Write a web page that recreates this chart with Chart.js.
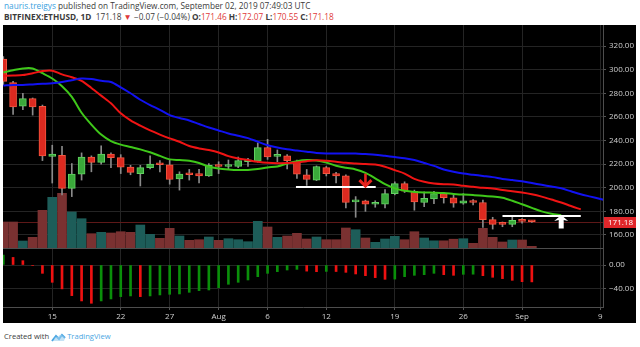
<!DOCTYPE html>
<html>
<head>
<meta charset="utf-8">
<script src="https://cdn.jsdelivr.net/npm/chart.js@4.4.0/dist/chart.umd.min.js"></script>
<style>
  html, body { margin: 0; padding: 0; background: #fff; }
  body { width: 640px; height: 347px; position: relative; overflow: hidden; font-family: "Open Sans", sans-serif; }
  .line { position: absolute; left: 4px; white-space: nowrap; font-size: 8.25px; color: #3b3b3b; }
  #l1 { top: 0px; }
  #l2 { top: 11px; }
  .user { color: #3a9fe0; }
  .red { color: #e03a3a; }
  #board { position: absolute; left: 3px; top: 25px; width: 633px; height: 298px; background: #000; }
  #priceWrap { position: absolute; left: 0; top: 0; }
  #aoWrap { position: absolute; left: 0; top: 224px; }
  #foot { position: absolute; left: 4px; top: 331px; font-size: 7.6px; color: #3b3b3b; white-space: nowrap; }
  #foot svg { vertical-align: -3px; margin: 0 1px 0 2px; }
  #foot .tv { color: #4aa6e2; }
</style>
</head>
<body>
<div class="line" id="l1"><span class="user">nauris.treigys</span> published on TradingView.com, September 02, 2019 07:49:03 UTC</div>
<div class="line" id="l2"><b>BITFINEX:ETHUSD, 1D</b>&nbsp; 171.18 <span class="red">▼</span> −0.07 (−0.04%) <b>O:</b><span class="red">171.46</span> <b>H:</b><span class="red">172.07</span> <b>L:</b><span class="red">170.55</span> <b>C:</b><span class="red">171.18</span></div>
<div id="board">
  <div id="priceWrap"><canvas id="price" width="633" height="224"></canvas></div>
  <div id="aoWrap"><canvas id="ao" width="633" height="74"></canvas></div>
</div>
<div id="foot">Created with<svg width="15" height="9" viewBox="0 0 15 9"><path d="M1 8 L5 3 L8 6 L11 2 L14 5" fill="none" stroke="#4aa6e2" stroke-width="2"/><path d="M3 8 Q3 3 7 4 Q9 0 12 3 Q15 4 13 8 Z" fill="#9fd0f0" opacity="0.6"/></svg><span class="tv">TradingView</span></div>

<script>
// day 0 = Jul 15 2019, first candle is Jul 10
const FIRST_DAY = -5;
const VIEW_MIN = -5.03;
const VIEW_MAX = 56.27;

const TIME_TICK_DAYS = [0, 7, 12, 17, 22, 28, 35, 42, 48, 56];
const TIME_LABELS = ['15', '22', '27', 'Aug', '6', '12', '19', '26', 'Sep', '9'];
const PRICE_TICKS = [160, 180, 200, 220, 240, 260, 280, 300, 320];
const AO_TICKS = [0, -40];

const OPEN = [309, 289, 269, 275.5, 269, 226.5, 227.5, 199.5, 211.5, 226, 221.5, 228.5, 225.5, 217.5, 212,
  217, 220.5, 219.5, 207.5, 211.5, 212, 210, 219, 218, 218, 222, 222.5, 234, 226.5, 227,
  222.5, 211, 206.5, 217, 212, 210, 188, 189, 186, 186, 195, 203.5, 197, 187.5, 190.5,
  195, 191.5, 187, 189, 187.5, 173, 170, 169, 172.5, 171.46];
const HIGH = [311, 290, 280, 276, 270, 236, 235, 220.5, 229.5, 227, 235.5, 229.5, 228, 219, 219,
  227, 223, 224, 213.5, 215.5, 215.5, 220.5, 222, 223.5, 226, 225, 238, 241, 232, 228,
  223.5, 215.5, 218.5, 218, 213, 211, 192.5, 189.5, 189, 198.5, 205, 205, 198, 196.5, 197,
  196, 194, 195, 190, 189.5, 175, 171, 175.5, 174, 172.07];
const LOW = [287, 262, 266, 261.5, 223, 204, 194, 192.5, 206.5, 213.5, 220, 217, 212, 211, 201.5,
  216, 213.5, 203, 198, 206.5, 204, 209.5, 212, 215.5, 217, 218, 221.5, 224, 222, 216,
  208, 202, 206, 210, 204, 183, 175, 180, 183.5, 183, 194, 196, 181, 184, 186.5,
  187, 183.5, 186, 185.5, 166.5, 165, 167, 167, 170, 170.55];
const CLOSE = [290, 268.5, 275.5, 268.5, 227, 228.5, 199.5, 211.5, 226, 221.5, 228.5, 225.5, 217.5, 213, 217,
  220, 219.5, 207, 211.5, 211, 210, 219, 218, 218.6, 223, 222.5, 234, 226, 227.2, 223,
  211.5, 207, 218, 212, 210, 187.5, 188.6, 186, 186.7, 195, 203.5, 197, 188, 191, 195,
  191.5, 187, 189, 187.5, 173, 169, 169, 172.5, 171.5, 171.18];
// thousand ETH
const VOLUME = [52, 52, 14, 21.4, 75.4, 101.4, 109.4, 72, 58.6, 28.6, 31.4, 30, 32.6, 31.4, 46,
  27.4, 19.4, 39.4, 24, 15.4, 16.6, 22, 15.4, 18.6, 16.6, 12.6, 53.4, 42, 21.4, 24,
  29.4, 18, 22, 16.6, 16.6, 40, 36.6, 20, 11.4, 18, 23.4, 16.6, 32.6, 20, 14.4,
  14.4, 17.6, 18.6, 9.4, 39.4, 21.4, 12, 16, 16, 3.4];

// Alligator lines (already shifted forward)
const JAW = [286.5, 287, 287, 287.5, 288, 288.5, 289.5, 291, 292.5, 292, 290.5, 289.5, 285, 280, 274.5,
  270, 266, 261.5, 259, 257, 254, 251, 248.5, 246, 244, 242, 239, 236, 234, 232.5,
  231.5, 230.5, 229.5, 229, 229, 229, 229, 228.5, 228, 227, 226, 225, 223.5, 221, 218.5,
  215.5, 213.5, 212, 211, 210, 209, 207.5, 206.5, 205.5, 204, 202.5, 201, 199.5, 197, 194.5,
  192.5, 190.5, 188.5];
const TEETH = [294.8, 295, 295.4, 296.9, 298.8, 299.1, 296, 293.5, 290.5, 284.5, 278, 271.5, 263, 257, 252.5,
  248.5, 245, 241.8, 238.9, 235.3, 233.3, 231.9, 229.9, 226.8, 224.8, 223.4, 222, 221.1, 220.8, 221,
  221.4, 222.5, 223.2, 222.8, 222, 221.1, 220.6, 220, 219.7, 217.8, 214.9, 212, 207.5, 205, 203.6,
  203, 202.8, 201.6, 200.8, 199.9, 199.4, 198, 197.1, 196, 194.5, 192.5, 190, 187.5, 184.5, 181.7];
const LIPS = [297.7, 299.5, 301, 301, 297, 292.5, 286, 277, 263.5, 253.5, 245, 239.5, 236.5, 234.5, 232.5,
  230, 227, 224, 223.4, 222.8, 221, 217.8, 216.3, 215.5, 215, 215, 215.8, 217.2, 218, 220.6,
  222.5, 223.4, 223.1, 221.4, 218.6, 216.9, 215.5, 212.6, 208, 203, 199.5, 197.5, 196.5, 196, 195.8,
  195.5, 194.8, 194.2, 193.8, 193.3, 192.5, 191.5, 189, 186, 183, 180, 178, 176.8];

// Awesome Oscillator
const AO = [17, 13, 7.4, -1, -14.3, -29.7, -41, -52.6, -61.7, -65.7, -61.7, -58.3, -54.3, -53.1, -54.3,
  -53.1, -51.4, -50.3, -49.7, -46.9, -44, -42.9, -38.9, -33.1, -29.7, -25.7, -20, -14.3, -11.4, -8.6,
  -7.5, -10.5, -11.5, -11, -11.2, -12.6, -15.4, -18.3, -21.7, -24.6, -24.2, -20, -17.7, -16.6, -14.3,
  -16.6, -17.7, -16, -15.8, -18.3, -21.1, -23.4, -26.3, -28.6, -29];

// user drawings
const LEVELS = [{ from: 24.9, to: 33.05, price: 201 }, { from: 46, to: 54, price: 176 }];
const ARROWS = [
  { day: 32, from: 211.9, to: 200.5, color: '#e8231d', style: 'chevron' },
  { day: 52, from: 165.5, to: 177, color: '#ffffff', style: 'solid' }
];

const PRICE_MIN = 148.99, PRICE_MAX = 337.78;
const VOL_MAX = 446;
const AO_MIN = -72.1, AO_MAX = 27.47;

const UP = '#3aa83a', UP_EDGE = '#62d262';
const DOWN = '#dc2a20', DOWN_EDGE = '#f4553f';
const VOL_UP = '#1d5d59', VOL_DOWN = '#7a3131';
const GRID = '#242424';
const AXIS_LINE = '#4d4d4d';
const LABEL = '#cfcfcf';

Chart.defaults.font.family = '"Open Sans", sans-serif';
Chart.defaults.font.size = 8;

const dayOf = i => FIRST_DAY + i;
const isUp = i => CLOSE[i] >= OPEN[i];
const fmt = v => (v < 0 ? '\u2212' : '') + Math.abs(v).toFixed(2);
const noPad = s => { s.paddingTop = 0; s.paddingBottom = 0; s.paddingLeft = 0; s.paddingRight = 0; };

function maLine(values, color) {
    return {
        type: 'line',
        data: values.map((v, i) => ({ x: dayOf(i), y: v })),
        borderColor: color,
        borderWidth: 2,
        pointRadius: 0,
        tension: 0.3,
        yAxisID: 'y',
        order: 1
    };
}

const drawings = {
    id: 'drawings',
    beforeDatasetsDraw(chart) {
        const { ctx, chartArea: a, scales: { y } } = chart;
        const py = Math.round(y.getPixelForValue(CLOSE[CLOSE.length - 1])) + 0.5;
        ctx.save();
        ctx.strokeStyle = '#5e1818';
        ctx.lineWidth = 1;
        ctx.beginPath();
        ctx.moveTo(a.left, py);
        ctx.lineTo(a.right, py);
        ctx.stroke();
        ctx.restore();
    },
    afterDatasetsDraw(chart) {
        const { ctx, chartArea: a, scales: { x, y } } = chart;
        ctx.save();
        ctx.beginPath();
        ctx.rect(a.left, a.top, a.right - a.left, a.bottom - a.top);
        ctx.clip();

        ctx.strokeStyle = '#ffffff';
        ctx.lineWidth = 2;
        LEVELS.forEach(l => {
            const ly = Math.round(y.getPixelForValue(l.price));
            ctx.beginPath();
            ctx.moveTo(x.getPixelForValue(l.from), ly);
            ctx.lineTo(x.getPixelForValue(l.to), ly);
            ctx.stroke();
        });

        ARROWS.forEach(ar => {
            const cx = x.getPixelForValue(ar.day);
            const y0 = y.getPixelForValue(ar.from);
            const y1 = y.getPixelForValue(ar.to);
            const dir = y1 > y0 ? 1 : -1;
            if (ar.style === 'chevron') {
                ctx.strokeStyle = ar.color;
                ctx.lineWidth = 2.6;
                ctx.beginPath();
                ctx.moveTo(cx, y0);
                ctx.lineTo(cx, y1 - dir);
                ctx.stroke();
                ctx.lineWidth = 3;
                ctx.lineJoin = 'miter';
                ctx.beginPath();
                ctx.moveTo(cx - 6, y1 - dir * 7);
                ctx.lineTo(cx, y1 - dir);
                ctx.lineTo(cx + 6, y1 - dir * 7);
                ctx.stroke();
            } else {
                ctx.fillStyle = ar.color;
                ctx.beginPath();
                ctx.moveTo(cx, y1);
                ctx.lineTo(cx + 7, y1 - dir * 6);
                ctx.lineTo(cx + 2.5, y1 - dir * 5);
                ctx.lineTo(cx + 2.5, y0);
                ctx.lineTo(cx - 2.5, y0);
                ctx.lineTo(cx - 2.5, y1 - dir * 5);
                ctx.lineTo(cx - 7, y1 - dir * 6);
                ctx.closePath();
                ctx.fill();
            }
        });
        ctx.restore();

        // last price tag on the axis
        const last = CLOSE[CLOSE.length - 1];
        const py = Math.round(y.getPixelForValue(last)) + 0.5;
        ctx.save();
        ctx.fillStyle = '#e0262a';
        ctx.fillRect(a.right + 1, py - 5.5, chart.width - a.right - 1, 11);
        ctx.fillStyle = '#ffffff';
        ctx.font = '8px "Open Sans", sans-serif';
        ctx.textAlign = 'center';
        ctx.textBaseline = 'middle';
        ctx.fillText(last.toFixed(2), (a.right + chart.width) / 2 + 1, py + 0.5);
        ctx.restore();
    }
};

new Chart(document.getElementById('price'), {
    type: 'bar',
    data: {
        datasets: [
            maLine(JAW, '#1212f2'),
            maLine(TEETH, '#f01414'),
            maLine(LIPS, '#3fc81a'),
            {
                data: OPEN.map((o, i) => ({ x: dayOf(i), y: [o, CLOSE[i]] })),
                backgroundColor: OPEN.map((o, i) => isUp(i) ? UP : DOWN),
                borderColor: OPEN.map((o, i) => isUp(i) ? UP_EDGE : DOWN_EDGE),
                borderWidth: 1,
                borderSkipped: false,
                barThickness: 7,
                minBarLength: 2,
                grouped: false,
                yAxisID: 'y',
                order: 4
            },
            {
                data: LOW.map((l, i) => ({ x: dayOf(i), y: [l, HIGH[i]] })),
                backgroundColor: '#8a8a8a',
                barThickness: 1,
                grouped: false,
                yAxisID: 'y',
                order: 5
            },
            {
                data: VOLUME.map((v, i) => ({ x: dayOf(i), y: v })),
                backgroundColor: VOLUME.map((v, i) => isUp(i) ? VOL_UP : VOL_DOWN),
                barThickness: 9,
                grouped: false,
                yAxisID: 'vol',
                order: 10
            }
        ]
    },
    options: {
        responsive: false,
        animation: false,
        devicePixelRatio: 1,
        layout: { padding: 0 },
        plugins: { legend: { display: false }, tooltip: { enabled: false } },
        scales: {
            x: {
                type: 'linear',
                min: VIEW_MIN,
                max: VIEW_MAX,
                offset: false,
                afterBuildTicks: s => { s.ticks = TIME_TICK_DAYS.map(v => ({ value: v })); },
                afterFit: s => { s.height = 1; noPad(s); },
                ticks: { display: false },
                grid: { color: GRID, offset: false, drawTicks: false },
                border: { color: AXIS_LINE }
            },
            y: {
                position: 'right',
                min: PRICE_MIN,
                max: PRICE_MAX,
                afterBuildTicks: s => { s.ticks = PRICE_TICKS.map(v => ({ value: v })); },
                afterFit: s => { s.width = 33; noPad(s); },
                ticks: { color: LABEL, padding: 3, callback: v => fmt(v) },
                grid: { color: GRID, tickColor: '#555', tickLength: 3 },
                border: { color: AXIS_LINE }
            },
            vol: { display: false, min: 0, max: VOL_MAX }
        }
    },
    plugins: [drawings]
});

new Chart(document.getElementById('ao'), {
    type: 'bar',
    data: {
        datasets: [{
            data: AO.map((v, i) => ({ x: dayOf(i), y: v })),
            backgroundColor: AO.map((v, i) => (i === 0 || v >= AO[i - 1]) ? '#0a8f0a' : '#ee1111'),
            barThickness: 2,
            grouped: false
        }]
    },
    options: {
        responsive: false,
        animation: false,
        devicePixelRatio: 1,
        layout: { padding: 0 },
        plugins: { legend: { display: false }, tooltip: { enabled: false } },
        scales: {
            x: {
                type: 'linear',
                min: VIEW_MIN,
                max: VIEW_MAX,
                offset: false,
                afterBuildTicks: s => { s.ticks = TIME_TICK_DAYS.map(v => ({ value: v })); },
                afterFit: s => { s.height = 16; noPad(s); },
                ticks: {
                    color: LABEL,
                    padding: 2,
                    maxRotation: 0,
                    autoSkip: false,
                    callback: v => TIME_LABELS[TIME_TICK_DAYS.indexOf(v)]
                },
                grid: { color: GRID, offset: false, tickColor: '#555', tickLength: 3 },
                border: { color: AXIS_LINE }
            },
            y: {
                position: 'right',
                min: AO_MIN,
                max: AO_MAX,
                afterBuildTicks: s => { s.ticks = AO_TICKS.map(v => ({ value: v })); },
                afterFit: s => { s.width = 33; noPad(s); },
                ticks: { color: LABEL, padding: 3, callback: v => fmt(v) },
                grid: { color: GRID, tickColor: '#555', tickLength: 3 },
                border: { color: AXIS_LINE }
            }
        }
    }
});
</script>
</body>
</html>
